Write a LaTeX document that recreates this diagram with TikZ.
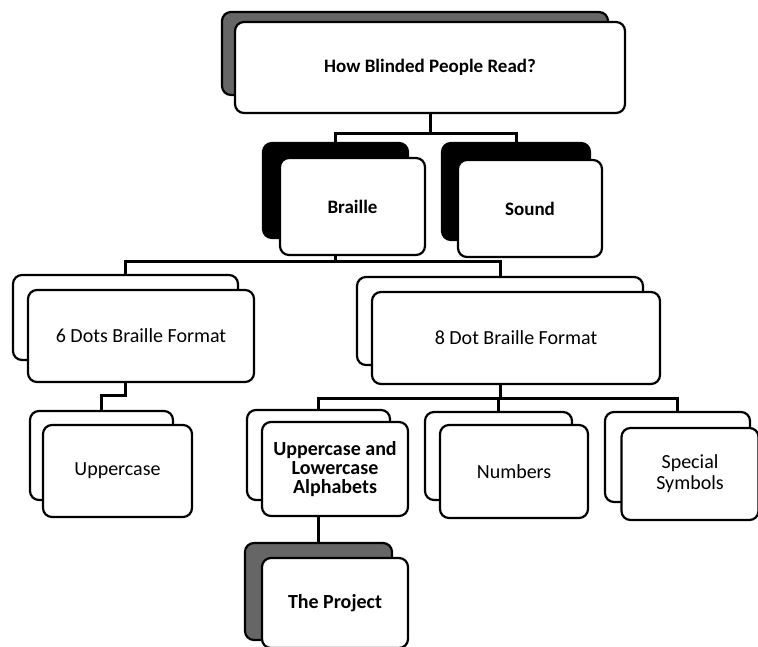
\documentclass[tikz,border=0pt]{standalone}
\usepackage{fontspec}
\setmainfont{Carlito}
\begin{document}
\begin{tikzpicture}[x=1pt,y=-1pt,
  box/.style={draw=black,line width=2.2pt,rounded corners=9pt,inner sep=0pt,align=center,
    font=\fontsize{20}{20}\selectfont},
  front/.style={box,fill=white},
  boldtext/.style={font=\fontsize{19}{20}\selectfont\bfseries},
  shadowW/.style={box,fill=white},
  shadowB/.style={box,fill=black},
  shadowG/.style={box,fill=black!60},
  conn/.style={draw=black,line width=3pt}]
\useasboundingbox (0,0) rectangle (758,647);
\clip (0,0) rectangle (758,647);
% level 0
\node[shadowG,minimum width=386pt,minimum height=83pt] (topS) at (415,53.5) {};
\node[front,boldtext,minimum width=390pt,minimum height=91pt] (top) at (430,67.5) {How Blinded People Read?};
% level 1
\node[shadowB,minimum width=145pt,minimum height=95pt] (brailleS) at (335.5,190.5) {};
\node[front,boldtext,minimum width=145pt,minimum height=97pt] (braille) at (352.5,206.5) {Braille};
\node[shadowB,minimum width=148pt,minimum height=97pt] (soundS) at (516,191.5) {};
\node[front,boldtext,minimum width=144pt,minimum height=97pt] (sound) at (530,208.5) {Sound};
% level 2
\node[shadowW,minimum width=225pt,minimum height=85pt] (sixS) at (125.5,317.5) {};
\node[front,minimum width=226pt,minimum height=92pt] (six) at (141,336) {6 Dots Braille Format};
\node[shadowW,minimum width=286pt,minimum height=88pt] (eightS) at (500,321) {};
\node[front,minimum width=288pt,minimum height=92pt] (eight) at (516,338) {8 Dot Braille Format};
% level 3
\node[shadowW,minimum width=143pt,minimum height=89pt] (upS) at (101.5,455.5) {};
\node[front,minimum width=149pt,minimum height=92pt] (up) at (117.5,471) {Uppercase};
\node[shadowW,minimum width=143pt,minimum height=90pt] (alphaS) at (318.5,455) {};
\node[front,minimum width=146pt,minimum height=94pt,font=\fontsize{20}{19}\selectfont\bfseries] (alpha) at (335,469) {Uppercase and\\Lowercase\\Alphabets};
\node[shadowW,minimum width=147pt,minimum height=88pt] (numS) at (498.5,456) {};
\node[front,minimum width=148pt,minimum height=93pt] (num) at (514,471.5) {Numbers};
\node[shadowW,minimum width=145pt,minimum height=90pt] (specS) at (677.5,457) {};
\node[front,minimum width=137pt,minimum height=92pt,font=\fontsize{20}{21}\selectfont] (spec) at (690,474) {Special\\Symbols};
% level 4
\node[shadowG,minimum width=147pt,minimum height=97pt] (projS) at (318.5,591.5) {};
\node[front,minimum width=146pt,minimum height=90pt,font=\fontsize{20}{20}\selectfont\bfseries] (proj) at (335,603) {The Project};
% connectors
\coordinate (bus1) at (0,134);
\coordinate (bus2) at (0,262);
\coordinate (bus3) at (0,395);
\coordinate (bus4) at (0,398);
\draw[conn] (top.south) -- (top.south |- bus1);
\draw[conn] (brailleS.north) -- (brailleS.north |- bus1) -- (soundS.north |- bus1) -- (soundS.north);
\draw[conn] (braille.south -| brailleS.north) -- (brailleS.north |- bus2);
\draw[conn] (sixS.north) -- (sixS.north |- bus2) -- (eightS.north |- bus2) -- (eightS.north);
\draw[conn] (six.south -| sixS.north) -- (sixS.north |- bus3) -- (upS.north |- bus3) -- (upS.north);
\draw[conn] (eight.south -| eightS.north) -- (eightS.north |- bus4);
\draw[conn] (alphaS.north) -- (alphaS.north |- bus4) -- (specS.north |- bus4) -- (specS.north);
\draw[conn] (numS.north |- bus4) -- (numS.north);
\draw[conn] (alpha.south -| alphaS.north) -- (projS.north);
\end{tikzpicture}
\end{document}
